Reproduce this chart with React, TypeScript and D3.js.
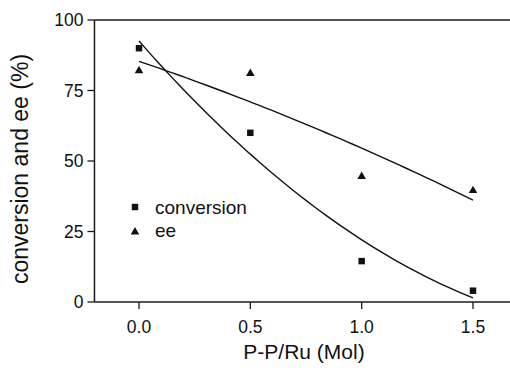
import React from 'react';
import * as d3 from 'd3';

const ratios = [0, 0.5, 1.0, 1.5];
const conversion = [90, 60, 14.5, 4];
const ee = [82, 81, 44.5, 39.5];
const xTicks = [0, 0.5, 1.0, 1.5];
const yTicks = [0, 25, 50, 75, 100];

// second order least squares fit, returns [a, b, c] for a + b*x + c*x^2
const quadFit = (xs: number[], ys: number[]) => {
    const s = (p: number) => d3.sum(xs, (x) => Math.pow(x, p));
    const t = (p: number) => d3.sum(xs, (x, i) => Math.pow(x, p) * ys[i]);
    const m = [
        [s(0), s(1), s(2), t(0)],
        [s(1), s(2), s(3), t(1)],
        [s(2), s(3), s(4), t(2)],
    ];
    for (let i = 0; i < 3; i++) {
        for (let j = i + 1; j < 3; j++) {
            const f = m[j][i] / m[i][i];
            for (let k = i; k < 4; k++) m[j][k] -= f * m[i][k];
        }
    }
    const r = [0, 0, 0];
    for (let i = 2; i >= 0; i--) {
        let v = m[i][3];
        for (let k = i + 1; k < 3; k++) v -= m[i][k] * r[k];
        r[i] = v / m[i][i];
    }
    return r;
};

const font = '"Liberation Sans", Arial, Helvetica, sans-serif';

const App = () => {
    const width = 510;
    const height = 370;

    const x = d3.scaleLinear().domain([0, 1.5]).range([139, 473]);
    const y = d3.scaleLinear().domain([0, 100]).range([302, 20]);
    const axisLeft = x(-0.2);

    const line = d3.line<[number, number]>()
        .x((d) => x(d[0]))
        .y((d) => y(d[1]));

    const fitPath = (vals: number[]) => {
        const [a, b, c] = quadFit(ratios, vals);
        const pts: [number, number][] = d3.range(0, 1.5001, 0.03).map((v) => [v, a + b * v + c * v * v]);
        return line(pts) || '';
    };

    const square = d3.symbol().type(d3.symbolSquare).size(42)();
    const triangle = d3.symbol().type(d3.symbolTriangle).size(32)();

    return (
        <svg width={width} height={height} style={{ position: 'absolute', left: 0, top: 0, background: '#fff' }}>
            {/* frame */}
            <line x1={axisLeft} x2={width + 2} y1={y(100)} y2={y(100)} stroke="#1a1a1a" strokeWidth={1.5} />
            <line x1={axisLeft} x2={width + 2} y1={y(0)} y2={y(0)} stroke="#1a1a1a" strokeWidth={1.5} />
            <line x1={axisLeft} x2={axisLeft} y1={y(0)} y2={y(100)} stroke="#1a1a1a" strokeWidth={1.5} />

            {yTicks.map((t) => (
                <g key={t}>
                    <line x1={axisLeft - 7} x2={axisLeft} y1={y(t)} y2={y(t)} stroke="#1a1a1a" strokeWidth={1.3} />
                    <text x={axisLeft - 11} y={y(t) + 6} textAnchor="end" fontFamily={font} fontSize={17.5} fill="#111">{t}</text>
                </g>
            ))}
            {xTicks.map((t) => (
                <g key={t}>
                    <line x1={x(t)} x2={x(t)} y1={y(0)} y2={y(0) + 7} stroke="#1a1a1a" strokeWidth={1.3} />
                    <text x={x(t)} y={333} textAnchor="middle" fontFamily={font} fontSize={17.5} fill="#111">{t.toFixed(1)}</text>
                </g>
            ))}

            <text x={304} y={359} textAnchor="middle" fontFamily={font} fontSize={21} fill="#111">P-P/Ru (Mol)</text>
            <text transform={`translate(28, 169) rotate(-90)`} textAnchor="middle" fontFamily={font} fontSize={23} fill="#111">conversion and ee (%)</text>

            {/* fitted curves */}
            <path d={fitPath(conversion)} fill="none" stroke="#111" strokeWidth={1.4} />
            <path d={fitPath(ee)} fill="none" stroke="#111" strokeWidth={1.4} />

            {ratios.map((r, i) => (
                <path key={'c' + i} d={square} transform={`translate(${x(r)}, ${y(conversion[i])})`} fill="#111" />
            ))}
            {ratios.map((r, i) => (
                <path key={'e' + i} d={triangle} transform={`translate(${x(r)}, ${y(ee[i])})`} fill="#111" />
            ))}

            {/* legend */}
            <path d={square} transform="translate(135, 207)" fill="#111" />
            <text x={155} y={214} fontFamily={font} fontSize={19} fill="#111">conversion</text>
            <path d={triangle} transform="translate(135, 232)" fill="#111" />
            <text x={155} y={237} fontFamily={font} fontSize={19} fill="#111">ee</text>
        </svg>
    );
};

export default App;
